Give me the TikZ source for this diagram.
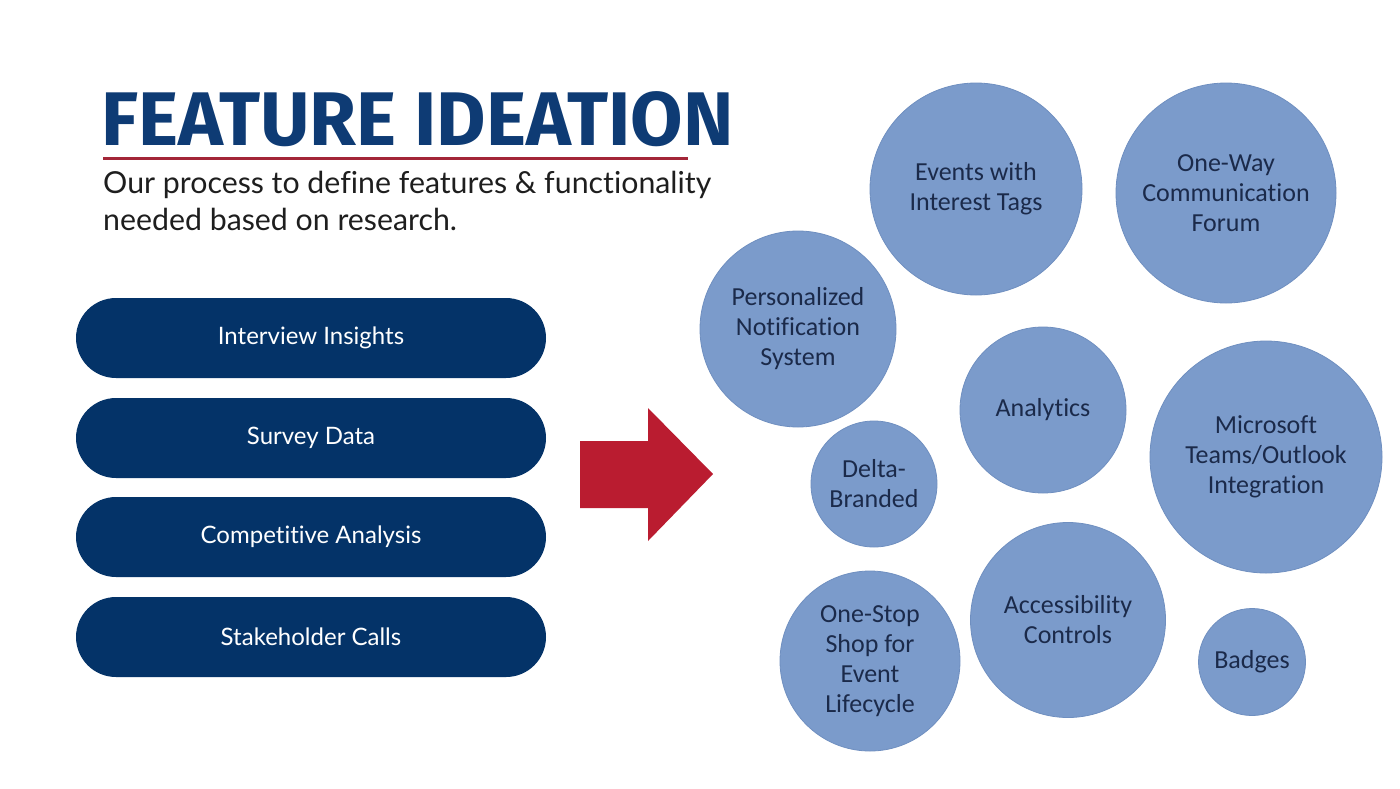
\documentclass[tikz,border=0pt]{standalone}
\usepackage{fontspec}
\setmainfont{Lato}[Ligatures=NoCommon]
\newfontfamily\titlefont{Fira Sans}
\newfontfamily\circfont{Carlito}[Ligatures=NoCommon]
\definecolor{navy}{HTML}{043368}
\definecolor{titleblue}{HTML}{0E3B74}
\definecolor{rule}{HTML}{A32638}
\definecolor{arrowred}{HTML}{BA1C30}
\definecolor{cfill}{HTML}{7B9BCB}
\definecolor{cdraw}{HTML}{6F8FC0}
\definecolor{ctext}{HTML}{1B2A4A}
\definecolor{subtext}{HTML}{1E1E1E}
\begin{document}
\begin{tikzpicture}[x=1pt,y=-1pt,
  pill/.style={draw=none,fill=navy,rounded corners=40pt,minimum width=470pt,minimum height=80pt,text=white,font=\fontsize{24}{28}\selectfont,inner sep=0pt},
  bubble/.style={circle,fill=cfill,draw=cdraw,line width=0.8pt,text=ctext,align=center,inner sep=0pt,font=\circfont\fontsize{26}{30}\selectfont},
]
\path[fill=white] (0,0) rectangle (1400,788);
\useasboundingbox (0,0) rectangle (1400,788);
% title
\node[anchor=base west,inner sep=0pt,text=titleblue,font=\titlefont\bfseries\fontsize{76}{84}\selectfont] (title) at (101,145) {FEATURE IDEATION};
\draw[rule,line width=3pt] (103,158) -- (688,158);
\node[anchor=base west,inner sep=0pt,text=subtext,font=\fontsize{30.3}{36}\selectfont,align=left] (sub) at (103,193) {Our process to define features \& functionality};
\node[anchor=base west,inner sep=0pt,text=subtext,font=\fontsize{30.3}{36}\selectfont,align=left] (sub2) at (103,230) {needed based on research.};
% pills
\node[pill] (p1) at (311,338) {Interview Insights};
\node[pill] (p2) at (311,438) {Survey Data};
\node[pill] (p3) at (311,537) {Competitive Analysis};
\node[pill] (p4) at (311,637) {Stakeholder Calls};
% arrow
\fill[arrowred] (580,441) -- (648,441) -- (648,408) -- (713,474) -- (648,541) -- (648,508) -- (580,508) -- cycle;
% bubbles
\node[bubble,minimum size=212pt] (events) at (976,189) {Events with\\Interest Tags};
\node[bubble,minimum size=220pt] (oneway) at (1226,193) {One-Way\\Communication\\Forum};
\node[bubble,minimum size=196pt] (pers) at (798,329) {Personalized\\Notification\\System};
\node[bubble,minimum size=166pt] (anal) at (1043,410) {Analytics};
\node[bubble,minimum size=232pt] (ms) at (1266,457) {Microsoft\\Teams/Outlook\\Integration};
\node[bubble,minimum size=126pt] (delta) at (874,484) {Delta-\\Branded};
\node[bubble,minimum size=180pt] (onestop) at (870,661) {One-Stop\\Shop for\\Event\\Lifecycle};
\node[bubble,minimum size=195pt] (access) at (1068,620) {Accessibility\\Controls};
\node[bubble,minimum size=107pt] (badges) at (1252,662) {Badges};
\end{tikzpicture}
\end{document}
